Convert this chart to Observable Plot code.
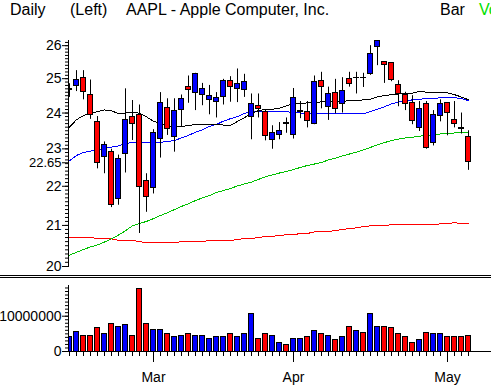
<!DOCTYPE html>
<html><head><meta charset="utf-8">
<script src="https://cdn.jsdelivr.net/npm/d3@7"></script>
<script src="https://cdn.jsdelivr.net/npm/@observablehq/plot@0.6"></script>
<style>
html,body{margin:0;padding:0;background:#fff;}
body{width:491px;height:388px;overflow:hidden;position:relative;font-family:"Liberation Sans",Arial,sans-serif;}
#hdr{position:relative;height:20px;font-size:16px;white-space:nowrap;}
#hdr span{position:absolute;top:0;line-height:20px;}
#sep{position:absolute;top:275px;left:0;width:491px;height:1px;border-top:1px solid #000;border-bottom:1px solid #000;}
svg{display:block;}
</style></head><body>
<div id="hdr"></div>
<div id="price"></div>
<div id="vol"></div>
<div id="sep"></div>
<script>
// ---- data (AAPL daily, 2002-02-12 .. 2002-05-06) ----
const dates = ["2002-02-12","2002-02-13","2002-02-14","2002-02-15","2002-02-19","2002-02-20","2002-02-21","2002-02-22","2002-02-25","2002-02-26","2002-02-27","2002-02-28",
"2002-03-01","2002-03-04","2002-03-05","2002-03-06","2002-03-07","2002-03-08","2002-03-11","2002-03-12","2002-03-13","2002-03-14","2002-03-15","2002-03-18","2002-03-19","2002-03-20","2002-03-21","2002-03-22","2002-03-25","2002-03-26","2002-03-27","2002-03-28",
"2002-04-01","2002-04-02","2002-04-03","2002-04-04","2002-04-05","2002-04-08","2002-04-09","2002-04-10","2002-04-11","2002-04-12","2002-04-15","2002-04-16","2002-04-17","2002-04-18","2002-04-19","2002-04-22","2002-04-23","2002-04-24","2002-04-25","2002-04-26","2002-04-29","2002-04-30",
"2002-05-01","2002-05-02","2002-05-03","2002-05-06"];
const open  = [24.66,24.77,25.03,24.52,23.75,22.79,22.91,21.67,22.86,23.90,23.93,22.15,21.95,23.28,24.15,23.34,24.09,24.74,24.59,24.52,24.38,24.32,24.47,24.94,24.70,24.67,23.90,24.20,24.04,23.23,23.37,23.71,23.39,24.02,24.02,23.70,24.94,24.17,24.59,24.25,25.00,25.01,25.03,25.15,25.97,25.49,25.46,24.82,24.52,24.30,23.58,24.27,23.17,23.92,24.29,23.81,23.57,23.34];
const high  = [24.85,25.24,25.24,24.96,23.90,23.19,22.99,22.83,24.70,24.36,24.23,22.33,23.53,24.59,24.41,24.41,24.52,25.08,25.16,24.86,24.80,24.59,24.98,25.06,25.29,25.13,24.55,24.55,24.09,23.64,23.73,23.86,24.71,24.33,24.33,25.08,25.19,24.75,24.98,25.03,25.19,25.19,25.16,26.00,26.19,25.49,25.46,24.94,24.60,24.50,24.33,24.33,24.07,24.38,24.29,24.33,24.00,23.50];
const low   = [24.45,24.62,24.38,23.82,22.46,22.33,21.45,21.51,22.35,23.23,20.80,21.33,21.80,22.75,23.37,22.91,23.62,24.28,24.07,24.21,23.95,23.86,24.23,24.31,24.30,24.45,23.25,23.86,23.22,22.99,23.25,23.43,23.27,23.84,23.58,23.67,24.12,23.79,23.98,24.00,24.75,24.55,24.74,25.10,25.39,24.86,24.91,24.18,24.07,23.67,23.48,22.99,23.08,23.75,23.36,23.58,23.41,22.42];
const close = [24.70,24.97,24.60,23.94,22.63,23.11,21.52,22.72,23.81,23.70,21.97,21.72,23.44,24.29,23.56,24.07,24.39,24.67,25.14,24.70,24.49,24.42,24.94,24.75,24.85,24.89,24.26,24.11,23.36,23.43,23.48,23.69,24.44,24.05,23.78,24.89,24.75,24.55,24.12,24.63,24.85,25.03,25.01,25.75,26.13,25.42,24.97,24.55,24.26,23.78,24.12,23.03,23.95,24.26,23.99,23.68,23.55,22.65];
const volume = [3970000,5570000,4440000,4440000,6800000,5100000,7840000,7080000,7370000,4440000,17850000,7840000,6230000,6230000,4820000,3970000,4530000,4820000,4530000,4530000,3680000,3970000,4250000,5100000,4250000,5100000,10760000,3680000,4820000,4440000,2270000,1980000,3680000,3680000,3970000,5950000,4820000,4530000,3400000,3970000,7080000,5670000,5380000,10760000,7080000,7080000,6800000,4820000,4250000,2550000,3400000,5380000,4820000,5100000,3970000,4250000,4250000,4530000];
const maShort = [23.60,23.81,23.93,23.99,24.04,24.09,24.06,23.99,24.00,24.03,23.99,23.89,23.77,23.70,23.63,23.62,23.62,23.65,23.67,23.67,23.67,23.67,23.66,23.65,23.76,23.87,23.99,24.07,24.10,24.11,24.14,24.21,24.26,24.28,24.29,24.30,24.32,24.33,24.33,24.34,24.35,24.36,24.38,24.40,24.47,24.50,24.53,24.55,24.56,24.57,24.63,24.60,24.59,24.59,24.58,24.53,24.46,24.38];
const maMid = [22.68,22.82,22.90,22.94,22.97,23.01,23.05,23.08,23.15,23.17,23.17,23.17,23.18,23.18,23.20,23.23,23.30,23.37,23.46,23.53,23.62,23.68,23.77,23.84,23.90,23.99,24.03,24.04,24.04,24.04,24.04,24.04,24.01,24.00,23.99,23.98,23.98,23.98,23.98,23.98,23.98,23.98,23.98,24.04,24.11,24.18,24.26,24.32,24.34,24.38,24.40,24.41,24.42,24.44,24.44,24.44,24.42,24.35];
const maLong = [20.27,20.34,20.41,20.47,20.52,20.59,20.67,20.76,20.87,20.99,21.05,21.10,21.17,21.25,21.32,21.40,21.48,21.55,21.63,21.70,21.76,21.84,21.89,21.94,22.01,22.06,22.11,22.18,22.25,22.30,22.35,22.39,22.44,22.50,22.55,22.59,22.63,22.70,22.75,22.81,22.86,22.91,22.97,23.04,23.11,23.17,23.23,23.27,23.30,23.32,23.35,23.37,23.39,23.41,23.42,23.44,23.44,23.44];
const maVeryLong = [20.71,20.71,20.71,20.71,20.67,20.67,20.67,20.63,20.63,20.63,20.60,20.57,20.57,20.57,20.57,20.57,20.60,20.60,20.60,20.60,20.63,20.63,20.63,20.63,20.65,20.68,20.68,20.70,20.73,20.73,20.75,20.77,20.77,20.80,20.80,20.84,20.85,20.85,20.87,20.90,20.92,20.94,20.97,20.99,20.99,20.99,21.02,21.02,21.02,21.02,21.02,21.02,21.02,21.04,21.04,21.07,21.04,21.04];
const priceTicks = [20,21,22,23,24,25,26];
const volumeTicks = [0,10000000];
const headerTexts = [["Daily",10,"#000"],["(Left)",70,"#000"],["AAPL - Apple Computer, Inc.",126,"#000"],["Bar",440,"#000"],["Vo",479,"#00e000"]];

// ---- build ----
const parse = d3.utcParse("%Y-%m-%d");
const rows = dates.map((d, i) => ({
  i, date: parse(d), open: open[i], high: high[i], low: low[i], close: close[i], volume: volume[i],
  ma1: maShort[i], ma2: maMid[i], ma3: maLong[i], ma4: maVeryLong[i],
  col: close[i] >= open[i] ? "#0000ff" : "#ff0000"
}));
const monthIdx = rows.filter((d, k) => k > 0 && d.date.getUTCMonth() !== rows[k - 1].date.getUTCMonth()).map(d => d.i);
const monthFmt = d3.utcFormat("%b");

const hdr = document.getElementById("hdr");
for (const [t, x, c] of headerTexts) {
  const s = document.createElement("span");
  s.textContent = t; s.style.left = x + "px"; s.style.color = c;
  hdr.appendChild(s);
}

const W = 491, LEFT = 68;
const xDomain = [(LEFT - 69) / 7, (W - 69) / 7];
const style = {fontFamily: "'Liberation Sans', Arial, sans-serif", fontSize: "14px", background: "transparent", color: "#000", overflow: "visible"};
const bw = 0.29;

const price = Plot.plot({
  width: W, height: 255, marginTop: 20, marginBottom: 9, marginLeft: LEFT, marginRight: 0,
  style,
  x: {domain: xDomain, axis: null},
  y: {type: "log", domain: [20, 26.16]},
  color: {type: "identity"},
  marks: [
    Plot.frame({anchor: "left"}),
    Plot.axisY({ticks: d3.range(200, 262).map(v => v / 10), tickSize: 3, tickFormat: () => "", label: null}),
    Plot.axisY({ticks: priceTicks, tickSize: 6, tickPadding: 1, tickFormat: d => String(d), label: null}),
    Plot.axisY({ticks: [close[close.length - 1]], tickSize: 6, tickPadding: 1, fontSize: 13, dy: 1, tickFormat: d => d.toFixed(2), label: null}),
    Plot.line(rows, {x: "i", y: "ma4", stroke: "#ff0000", strokeWidth: 1, clip: true, shapeRendering: "crispEdges"}),
    Plot.line(rows, {x: "i", y: "ma3", stroke: "#00c000", strokeWidth: 1, clip: true, shapeRendering: "crispEdges"}),
    Plot.line(rows, {x: "i", y: "ma2", stroke: "#0000ff", strokeWidth: 1, clip: true, shapeRendering: "crispEdges"}),
    Plot.line(rows, {x: "i", y: "ma1", stroke: "#000", strokeWidth: 1, clip: true, shapeRendering: "crispEdges"}),
    Plot.ruleX(rows, {x: "i", y1: "low", y2: "high", stroke: "#000", clip: true}),
    Plot.rect(rows, {x1: d => d.i - bw, x2: d => d.i + bw, y1: "open", y2: "close", fill: "col", stroke: "#000", strokeWidth: 1, clip: true, shapeRendering: "crispEdges"})
  ]
});
document.getElementById("price").appendChild(price);

const vol = Plot.plot({
  width: W, height: 113, marginTop: 10, marginBottom: 37, marginLeft: LEFT, marginRight: 0,
  style,
  x: {domain: xDomain},
  y: {domain: [0, 18.7e6]},
  color: {type: "identity"},
  marks: [
    Plot.axisY({ticks: d3.range(0, 19).map(v => v * 1e6), tickSize: 3, tickFormat: () => "", label: null}),
    Plot.axisY({ticks: volumeTicks, tickSize: 6, tickPadding: 1, tickFormat: d => String(d), label: null}),
    Plot.axisX({ticks: rows.map(d => d.i), tickSize: 5, tickFormat: () => "", label: null}),
    Plot.axisX({ticks: monthIdx, tickSize: 11, tickPadding: 10, tickFormat: i => monthFmt(rows[i].date), label: null}),
    Plot.rectY(rows, {x1: d => d.i - 0.32, x2: d => d.i + 0.32, y1: 0, y2: "volume", fill: "col", stroke: "#000", strokeWidth: 1, clip: true, shapeRendering: "crispEdges"}),
    Plot.frame({anchor: "left"}),
    Plot.frame({anchor: "bottom"})
  ]
});
document.getElementById("vol").appendChild(vol);
</script>
</body></html>
